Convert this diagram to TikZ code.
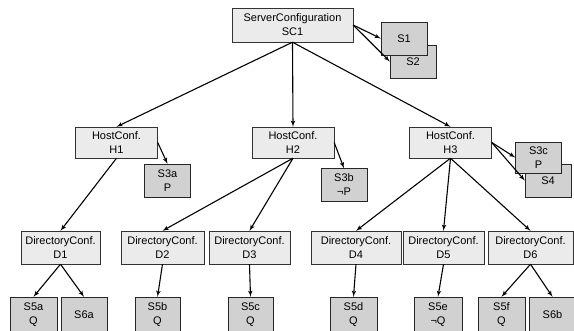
\documentclass[tikz,border=0pt]{standalone}
\usepackage{fontspec}
\setmainfont{Liberation Sans}
\usepackage{tikz}
\usetikzlibrary{arrows}

\begin{document}
\begin{tikzpicture}[x=1pt,y=-1pt]
\tikzset{conf/.style = {shape=rectangle,draw=black!80,fill=black!8,align=center,minimum width=82pt,minimum height=31pt,inner sep=2pt,font=\fontsize{11}{14}\selectfont}}
\tikzset{sbox/.style = {conf,fill=black!18,draw=black!85,minimum width=46pt,minimum height=33pt}}
\tikzset{edge/.style = {->,> = latex',line width=1.1pt}}
\useasboundingbox (0,0) rectangle (574,330);
\node[conf,minimum width=121pt,minimum height=34pt] (sc1) at (292.5,25) {ServerConfiguration\\SC1};
\node[sbox] (s2) at (413,61.5) {S2};
\node[sbox] (s1) at (404,38.5) {S1};
\node[conf] (h1) at (116.5,142.5) {HostConf.\\H1};
\node[conf] (h2) at (293,142.5) {HostConf.\\H2};
\node[conf] (h3) at (450.5,142.5) {HostConf.\\H3};
\node[sbox] (s3a) at (167.5,180.5) {S3a\\P};
\node[sbox] (s3b) at (344,185) {S3b\\¬P};
\node[sbox] (s4) at (548,180.5) {S4};
\node[sbox,minimum height=31pt] (s3c) at (538.5,157.5) {S3c\\P};
\node[conf,minimum width=79pt,minimum height=33pt] (d1) at (60.5,247.5) {DirectoryConf.\\D1};
\node[conf,minimum width=83pt,minimum height=33pt] (d2) at (162.5,247.5) {DirectoryConf.\\D2};
\node[conf,minimum width=81pt,minimum height=33pt] (d3) at (249.5,247.5) {DirectoryConf.\\D3};
\node[conf,minimum width=90pt,minimum height=33pt] (d4) at (356,247.5) {DirectoryConf.\\D4};
\node[conf,minimum width=81pt,minimum height=33pt] (d5) at (443.5,247.5) {DirectoryConf.\\D5};
\node[conf,minimum width=85pt,minimum height=33pt] (d6) at (530.5,247.5) {DirectoryConf.\\D6};
\node[sbox,minimum width=47pt,minimum height=35pt] (s5a) at (33.5,314.5) {S5a\\Q};
\node[sbox,minimum width=46pt,minimum height=35pt] (s6a) at (84,314.5) {S6a};
\node[sbox,minimum width=45pt,minimum height=35pt] (s5b) at (157.5,314.5) {S5b\\Q};
\node[sbox,minimum width=45pt,minimum height=35pt] (s5c) at (250.5,314.5) {S5c\\Q};
\node[sbox,minimum width=47pt,minimum height=35pt] (s5d) at (353.5,314.5) {S5d\\Q};
\node[sbox,minimum width=48pt,minimum height=35pt] (s5e) at (438,314.5) {S5e\\¬Q};
\node[sbox,minimum width=47pt,minimum height=35pt] (s5f) at (501.5,314.5) {S5f\\Q};
\node[sbox,minimum width=47pt,minimum height=35pt] (s6b) at (552.5,314.5) {S6b};
\draw[edge] (sc1.south) to (h1.north);
\draw[edge] (sc1.south) to (h2.north);
\draw[edge] (sc1.south) to (h3.north);
\draw[edge] (sc1.east) to (s1.west);
\draw[edge] (sc1.east) to (s2.west);
\draw[edge] (h1.east) to (s3a.north);
\draw[edge] (h2.east) to (s3b.north);
\draw[edge] (h3.east) to (s3c.west);
\draw[edge] (h3.east) to (s4.west);
\draw[edge] (h1.south) to (d1.north);
\draw[edge] (h2.south) to (d2.north);
\draw[edge] (h2.south) to (d3.north);
\draw[edge] (h3.south) to (d4.north);
\draw[edge] (h3.south) to (d5.north);
\draw[edge] (h3.south) to (d6.north);
\draw[edge] (d1.south) to (s5a.north);
\draw[edge] (d1.south) to (s6a.north);
\draw[edge] (d2.south) to (s5b.north);
\draw[edge] (d3.south) to (s5c.north);
\draw[edge] (d4.south) to (s5d.north);
\draw[edge] (d5.south) to (s5e.north);
\draw[edge] (d6.south) to (s5f.north);
\draw[edge] (d6.south) to (s6b.north);
\end{tikzpicture}
\end{document}
